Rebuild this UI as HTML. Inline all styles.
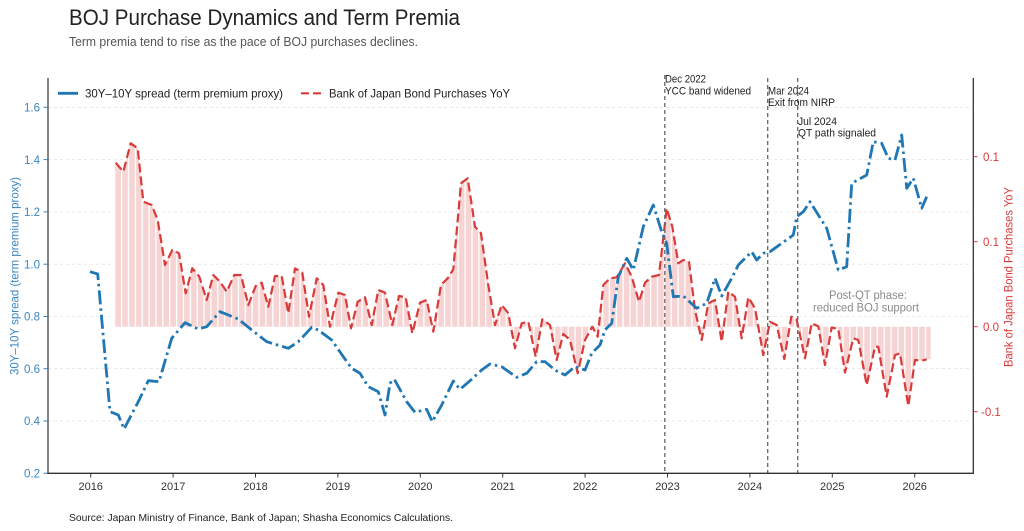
<!DOCTYPE html>
<html>
<head>
<meta charset="utf-8">
<style>
  html, body { margin: 0; padding: 0; background: #ffffff; }
  svg { display: block; }
  text { font-family: "Liberation Sans", "DejaVu Sans", sans-serif; }
</style>
</head>
<body>
<svg width="1024" height="531" viewBox="0 0 1024 531" xmlns="http://www.w3.org/2000/svg">
  <defs>
    <pattern id="sep" patternUnits="userSpaceOnUse" x="114.1" y="0" width="6.87" height="531">
      <rect x="0" y="0" width="1.3" height="531" fill="#ffffff"/>
    </pattern>
    <polygon id="barsArea" points="114.1,326.7 114.1,162.7 115.7,162.7 123.3,171.7 130.7,143.3 137.7,148.3 143.3,201.7 151.7,205 157.7,220 165,265 172.3,250 179,253.3 185.7,293.3 192.3,268.3 199.3,276.7 206.7,300 213.3,275 220,281.7 226.7,291.7 234.3,275 241,275 248.3,305 255.7,286 261.7,282.7 268.3,306.7 275,276 281.7,276 288.3,313.3 295,268.3 302.3,272.7 309,316.7 316.7,278.3 323.3,285 330,326.7 338.3,292.7 345,295 351,328.3 357.7,301.7 365,297.3 371.7,325 378.3,290 385,292.7 392.3,325 399,296 405.7,297.3 412.3,333.3 420,302.7 426.7,300 433.3,331.7 441,285 447.7,278.3 453.3,269.3 461,183.3 467.7,178.3 475,226.7 481,233.3 488.3,285 495,325 501.7,305 508.3,313.3 515,348.3 521.7,323.3 528.3,321.7 535.7,356.7 542.3,319.3 550,325 556.7,360 563.3,334 570,340 577.7,373.3 585,340 592.3,326.7 597.7,336.7 603.3,285 610,278.3 616.7,277.3 625,263.3 631.7,276.7 639,301.7 645,282.7 651.7,276.7 659,275 666.7,208.3 672.3,226.7 678.3,263.3 683.3,260 689,261.7 695,310 701.7,340 708.3,303.3 715,300 721.7,341.7 728.3,291.7 735,296.7 741.7,338.3 748.3,297.3 755,308.3 763.3,355 770,321.7 776.7,325 784.3,359 791.3,316.7 796.5,319 805,358.3 811.7,323.3 818.3,326.3 825,365 831.7,327.5 838.3,329 845,372.5 853.3,338.3 858.3,340 866.7,385 875,346.7 878.3,346.7 886.7,396.7 895,355 900,353.3 908.3,406 915,360 921.7,360.7 926.7,359.3 930.7,359.3 930.7,326.7"/>
  </defs>
  <rect x="0" y="0" width="1024" height="531" fill="#ffffff"/>

  <!-- Title & subtitle -->
  <text x="69" y="25" font-size="22" fill="#222" textLength="391" lengthAdjust="spacingAndGlyphs">BOJ Purchase Dynamics and Term Premia</text>
  <text x="69" y="46" font-size="13" fill="#555" textLength="349" lengthAdjust="spacingAndGlyphs">Term premia tend to rise as the pace of BOJ purchases declines.</text>

  <!-- Gridlines -->
  <g stroke="#e2e2e2" stroke-width="0.8" stroke-dasharray="3 3">
    <line x1="48" y1="107.3" x2="973" y2="107.3"/>
    <line x1="48" y1="159.6" x2="973" y2="159.6"/>
    <line x1="48" y1="211.9" x2="973" y2="211.9"/>
    <line x1="48" y1="264.2" x2="973" y2="264.2"/>
    <line x1="48" y1="316.5" x2="973" y2="316.5"/>
    <line x1="48" y1="368.7" x2="973" y2="368.7"/>
    <line x1="48" y1="421" x2="973" y2="421"/>
  </g>

  <!-- Bars -->
  <use href="#barsArea" fill="#f6d4d4"/>
  <use href="#barsArea" fill="url(#sep)"/>

  <!-- Red dashed line (BOJ purchases YoY) -->
  <polyline fill="none" stroke="#d93a3a" stroke-width="2.2" stroke-dasharray="9 4" stroke-linejoin="round" points="115.7,162.7 123.3,171.7 130.7,143.3 137.7,148.3 143.3,201.7 151.7,205 157.7,220 165,265 172.3,250 179,253.3 185.7,293.3 192.3,268.3 199.3,276.7 206.7,300 213.3,275 220,281.7 226.7,291.7 234.3,275 241,275 248.3,305 255.7,286 261.7,282.7 268.3,306.7 275,276 281.7,276 288.3,313.3 295,268.3 302.3,272.7 309,316.7 316.7,278.3 323.3,285 330,326.7 338.3,292.7 345,295 351,328.3 357.7,301.7 365,297.3 371.7,325 378.3,290 385,292.7 392.3,325 399,296 405.7,297.3 412.3,333.3 420,302.7 426.7,300 433.3,331.7 441,285 447.7,278.3 453.3,269.3 461,183.3 467.7,178.3 475,226.7 481,233.3 488.3,285 495,325 501.7,305 508.3,313.3 515,348.3 521.7,323.3 528.3,321.7 535.7,356.7 542.3,319.3 550,325 556.7,360 563.3,334 570,340 577.7,373.3 585,340 592.3,326.7 597.7,336.7 603.3,285 610,278.3 616.7,277.3 625,263.3 631.7,276.7 639,301.7 645,282.7 651.7,276.7 659,275 666.7,208.3 672.3,226.7 678.3,263.3 683.3,260 689,261.7 695,310 701.7,340 708.3,303.3 715,300 721.7,341.7 728.3,291.7 735,296.7 741.7,338.3 748.3,297.3 755,308.3 763.3,355 770,321.7 776.7,325 784.3,359 791.3,316.7 796.5,319 805,358.3 811.7,323.3 818.3,326.3 825,365 831.7,327.5 838.3,329 845,372.5 853.3,338.3 858.3,340 866.7,385 875,346.7 878.3,346.7 886.7,396.7 895,355 900,353.3 908.3,406 915,360 921.7,360.7 926.7,359.3"/>

  <!-- Blue dash-dot line (30Y-10Y spread) -->
  <polyline fill="none" stroke="#1f77b4" stroke-width="2.8" stroke-dasharray="14 4 2.5 4" stroke-linejoin="round" points="90,271.7 97.7,274 110,411.7 118.3,415 124,429 138.3,401.7 148.3,380.7 159,381.7 171.7,338.3 185,322.7 198.3,329 206.7,326.7 220,311.7 238.3,319 251.7,330 266.7,341.7 288.3,348.3 298.3,341.7 311.7,327.3 318.3,330 331.7,340 343.3,356.7 351.7,368.3 360,373.3 368.3,386.7 378.3,391.7 385,415 390,383.3 394.3,379.3 406.7,401.7 415,412.3 426.7,409.3 432.3,421.7 441.7,405 453.3,381 460,389.3 471.7,379.3 481.7,370 490,364 501.7,366.7 516.7,377.3 526.7,373.3 536.7,361.7 545,361.7 555,370 565,375 575,366.7 585,370 591.7,353.3 600,345 605,330 611.7,323.3 618.3,276.7 626.7,258.3 633.3,270 643.3,226.7 653.3,205 661.7,231.7 666.7,243.3 673.3,296.7 683.3,296 696.7,308.3 706.7,303.3 715,278.3 721.7,296 731.7,278.3 738.3,265 751.7,251.7 756.7,260 763.3,253.3 770,251.7 793.3,235 796.7,216.7 803.3,211.7 810,201.7 826.7,228.3 838.3,270 846.7,266.7 851.7,183.3 866.7,175 873.3,141.7 881.7,143.3 888.3,158.3 895,160 901.7,135 906.7,188.3 913.3,178.3 921.7,208.3 926.7,196.7"/>

  <!-- Event lines -->
  <g stroke="#666" stroke-width="1.3" stroke-dasharray="4 3">
    <line x1="664.8" y1="75" x2="664.8" y2="473"/>
    <line x1="767.7" y1="78" x2="767.7" y2="473"/>
    <line x1="797.7" y1="78" x2="797.7" y2="473"/>
  </g>
  <g font-size="11" fill="#222">
    <text x="665" y="82.5" textLength="41" lengthAdjust="spacingAndGlyphs">Dec 2022</text>
    <text x="665" y="94.3" textLength="86" lengthAdjust="spacingAndGlyphs">YCC band widened</text>
    <text x="768" y="94.3" textLength="41" lengthAdjust="spacingAndGlyphs">Mar 2024</text>
    <text x="768" y="106" textLength="67" lengthAdjust="spacingAndGlyphs">Exit from NIRP</text>
    <text x="798" y="125" textLength="39" lengthAdjust="spacingAndGlyphs">Jul 2024</text>
    <text x="798" y="136.7" textLength="78" lengthAdjust="spacingAndGlyphs">QT path signaled</text>
  </g>

  <!-- Post-QT annotation -->
  <g font-size="11.5" fill="#8a8a8a" text-anchor="middle">
    <text x="868" y="299" textLength="78" lengthAdjust="spacingAndGlyphs">Post-QT phase:</text>
    <text x="866" y="311.7" textLength="106" lengthAdjust="spacingAndGlyphs">reduced BOJ support</text>
  </g>

  <!-- Legend -->
  <line x1="58" y1="93.3" x2="78" y2="93.3" stroke="#1f77b4" stroke-width="2.8"/>
  <text x="85" y="97.5" font-size="12" fill="#222" textLength="198" lengthAdjust="spacingAndGlyphs">30Y–10Y spread (term premium proxy)</text>
  <line x1="301" y1="93.3" x2="321" y2="93.3" stroke="#d93a3a" stroke-width="2.2" stroke-dasharray="8 4"/>
  <text x="329" y="97.5" font-size="12" fill="#222" textLength="181" lengthAdjust="spacingAndGlyphs">Bank of Japan Bond Purchases YoY</text>

  <!-- Spines -->
  <line x1="48" y1="78" x2="48" y2="473.5" stroke="#666" stroke-width="1.6"/>
  <line x1="47.2" y1="473.3" x2="973.8" y2="473.3" stroke="#333" stroke-width="1.4"/>
  <line x1="973.3" y1="78" x2="973.3" y2="474" stroke="#333" stroke-width="1.3"/>

  <!-- Left ticks & labels -->
  <g stroke="#3a86c4" stroke-width="1">
    <line x1="43.5" y1="107.3" x2="47.5" y2="107.3"/>
    <line x1="43.5" y1="159.6" x2="47.5" y2="159.6"/>
    <line x1="43.5" y1="211.9" x2="47.5" y2="211.9"/>
    <line x1="43.5" y1="264.2" x2="47.5" y2="264.2"/>
    <line x1="43.5" y1="316.5" x2="47.5" y2="316.5"/>
    <line x1="43.5" y1="368.7" x2="47.5" y2="368.7"/>
    <line x1="43.5" y1="421" x2="47.5" y2="421"/>
    <line x1="43.5" y1="473.3" x2="47.5" y2="473.3"/>
  </g>
  <g font-size="11.5" fill="#3a86c4" text-anchor="end">
    <text x="40" y="111.5">1.6</text>
    <text x="40" y="163.8">1.4</text>
    <text x="40" y="216.1">1.2</text>
    <text x="40" y="268.4">1.0</text>
    <text x="40" y="320.7">0.8</text>
    <text x="40" y="372.9">0.6</text>
    <text x="40" y="425.2">0.4</text>
    <text x="40" y="477.5">0.2</text>
  </g>
  <text transform="translate(18.5,276) rotate(-90)" text-anchor="middle" font-size="12" fill="#3a86c4" textLength="198" lengthAdjust="spacingAndGlyphs">30Y–10Y spread (term premium proxy)</text>

  <!-- Right ticks & labels -->
  <g stroke="#d93a3a" stroke-width="1">
    <line x1="973.5" y1="156.7" x2="977.5" y2="156.7"/>
    <line x1="973.5" y1="241.7" x2="977.5" y2="241.7"/>
    <line x1="973.5" y1="326.7" x2="977.5" y2="326.7"/>
    <line x1="973.5" y1="411.7" x2="977.5" y2="411.7"/>
  </g>
  <g font-size="11.5" fill="#d93a3a">
    <text x="983" y="160.9">0.1</text>
    <text x="983" y="245.9">0.1</text>
    <text x="983" y="330.9">0.0</text>
    <text x="981" y="415.9">-0.1</text>
  </g>
  <text transform="translate(1012.5,277) rotate(-90)" text-anchor="middle" font-size="12" fill="#d93a3a" textLength="180" lengthAdjust="spacingAndGlyphs">Bank of Japan Bond Purchases YoY</text>

  <!-- Bottom ticks & labels -->
  <g stroke="#333" stroke-width="1">
    <line x1="90.7" y1="473.5" x2="90.7" y2="477.5"/>
    <line x1="173.1" y1="473.5" x2="173.1" y2="477.5"/>
    <line x1="255.5" y1="473.5" x2="255.5" y2="477.5"/>
    <line x1="337.9" y1="473.5" x2="337.9" y2="477.5"/>
    <line x1="420.3" y1="473.5" x2="420.3" y2="477.5"/>
    <line x1="502.7" y1="473.5" x2="502.7" y2="477.5"/>
    <line x1="585.1" y1="473.5" x2="585.1" y2="477.5"/>
    <line x1="667.5" y1="473.5" x2="667.5" y2="477.5"/>
    <line x1="749.9" y1="473.5" x2="749.9" y2="477.5"/>
    <line x1="832.3" y1="473.5" x2="832.3" y2="477.5"/>
    <line x1="914.7" y1="473.5" x2="914.7" y2="477.5"/>
  </g>
  <g font-size="11" fill="#333" text-anchor="middle">
    <text x="90.7" y="490">2016</text>
    <text x="173.1" y="490">2017</text>
    <text x="255.5" y="490">2018</text>
    <text x="337.9" y="490">2019</text>
    <text x="420.3" y="490">2020</text>
    <text x="502.7" y="490">2021</text>
    <text x="585.1" y="490">2022</text>
    <text x="667.5" y="490">2023</text>
    <text x="749.9" y="490">2024</text>
    <text x="832.3" y="490">2025</text>
    <text x="914.7" y="490">2026</text>
  </g>

  <!-- Source -->
  <text x="69" y="521" font-size="10.5" fill="#222" textLength="384" lengthAdjust="spacingAndGlyphs">Source: Japan Ministry of Finance, Bank of Japan; Shasha Economics Calculations.</text>
</svg>
</body>
</html>
